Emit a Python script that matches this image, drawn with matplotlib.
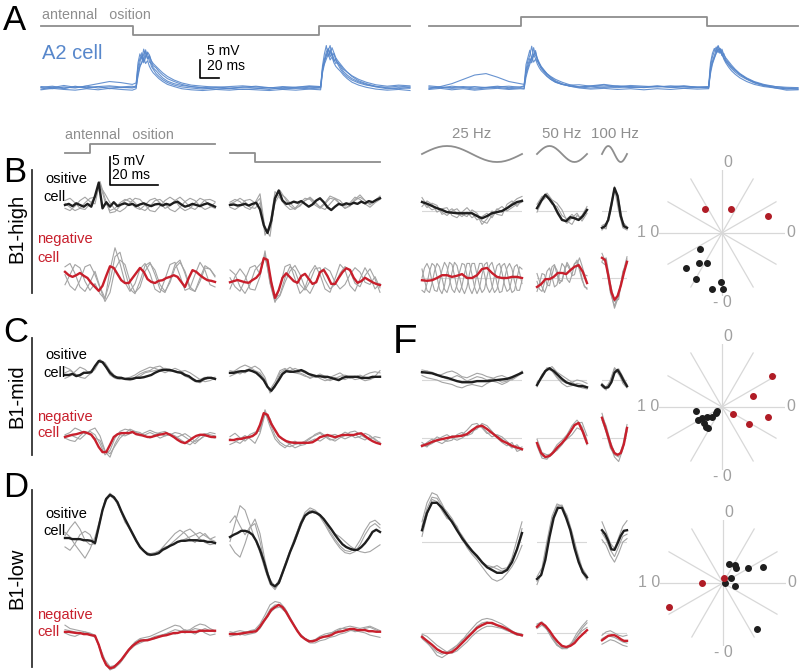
import numpy as np
import matplotlib
matplotlib.use('Agg')
import matplotlib.pyplot as plt
from matplotlib.lines import Line2D

plt.rcParams['font.family'] = ['Liberation Sans', 'DejaVu Sans']

# ---------------- panel A : A2 cell, single trials (mV above rest) ----------------
a_time = [0, 12, 24, 36, 48, 60, 72, 84, 96, 100,
          102, 104, 106, 108, 110, 112, 114, 116, 118, 121,
          124, 128, 133, 140, 148, 158, 170, 184, 198, 212,
          226, 240, 254, 268, 282, 294, 296, 298, 300, 302,
          304, 306, 308, 310, 312, 315, 318, 322, 327, 334,
          342, 352, 364, 376, 388]

a_left_trials = [
    [0.4, 0.1, 0.7, 0.2, 0.5, 0.0, 0.3, 0.1, 0.2, 0.6,
     7.0, 9.5, 8.0, 10.8, 8.5, 9.8, 7.2, 6.8, 5.6, 4.8,
     3.9, 2.8, 1.9, 1.2, 0.7, 0.4, 0.1, 0.3, 0.0, 0.2,
     0.5, 0.1, -0.1, 0.2, 0.4, 0.3, 6.2, 9.5, 11.8, 8.8,
     10.6, 9.2, 7.4, 8.2, 6.6, 5.2, 4.1, 3.1, 2.2, 1.4,
     0.8, 0.4, 0.2, 0.5, 0.3],
    [-0.3, 0.3, -0.2, 0.5, -0.1, 0.4, -0.2, 0.2, 0.0, 0.3,
     5.0, 7.0, 9.8, 7.5, 10.2, 8.0, 8.6, 6.0, 5.2, 4.0,
     3.2, 2.3, 1.5, 0.8, 0.3, 0.0, -0.3, 0.1, -0.2, 0.3,
     0.0, -0.4, 0.2, -0.1, 0.2, 0.1, 5.5, 8.0, 10.0, 11.0,
     8.6, 9.8, 8.0, 6.8, 7.2, 5.8, 4.6, 3.6, 2.6, 1.7,
     1.0, 0.3, -0.2, 0.1, -0.1],
    [0.1, -0.2, 0.3, 0.0, 0.6, 1.2, 1.8, 1.5, 1.0, 1.4,
     6.0, 8.2, 8.8, 7.0, 8.4, 10.0, 9.2, 7.4, 6.2, 5.6,
     4.6, 3.6, 2.6, 1.8, 1.0, 0.4, 0.0, -0.3, -0.1, -0.4,
     -0.2, 0.1, -0.3, 0.0, -0.2, 0.0, 4.8, 7.6, 9.0, 10.4,
     11.8, 8.8, 9.6, 7.6, 7.0, 6.2, 5.2, 4.4, 3.2, 2.0,
     1.2, 0.5, 0.0, -0.2, 0.2],
    [-0.5, -0.1, -0.4, -0.6, -0.2, -0.5, -0.1, -0.4, -0.6, -0.2,
     4.0, 6.2, 7.0, 8.4, 6.8, 7.6, 6.0, 5.0, 4.2, 3.4,
     2.6, 1.8, 1.0, 0.4, -0.2, -0.5, -0.7, -0.4, -0.6, -0.3,
     -0.5, -0.7, -0.4, -0.6, -0.3, -0.5, 4.2, 6.6, 8.0, 9.4,
     7.8, 8.6, 7.0, 6.0, 5.4, 4.6, 3.6, 2.6, 1.6, 0.8,
     0.2, -0.3, -0.6, -0.4, -0.7],
    [0.2, 0.5, 0.0, 0.3, 0.1, 0.4, 0.6, 0.3, 0.5, 0.2,
     3.2, 5.8, 7.2, 9.4, 10.6, 8.2, 9.0, 7.6, 6.8, 6.0,
     5.2, 4.2, 3.2, 2.2, 1.4, 0.8, 0.5, 0.2, 0.4, 0.6,
     0.3, 0.0, 0.4, 0.2, 0.6, 0.4, 5.0, 7.0, 9.0, 10.8,
     9.4, 11.2, 9.8, 8.4, 7.6, 6.6, 5.6, 4.4, 3.4, 2.4,
     1.6, 0.9, 0.5, 0.8, 0.6],
]

a_right_trials = [
    [0.3, 0.0, 0.5, 0.2, 0.4, 0.1, 0.3, 0.5, 0.2, 0.4,
     6.5, 8.5, 10.5, 8.0, 11.2, 9.0, 8.0, 6.6, 5.4, 4.4,
     3.4, 2.4, 1.6, 1.0, 0.6, 0.3, 0.5, 0.2, 0.6, 0.3,
     0.1, 0.4, 0.2, 0.5, 0.3, 0.4, 7.0, 9.6, 11.0, 10.0,
     11.8, 10.6, 9.6, 8.0, 7.0, 5.8, 4.8, 3.8, 2.8, 1.8,
     1.0, 0.4, 0.0, -0.2, 0.0],
    [0.0, 0.4, 1.2, 2.4, 3.6, 4.0, 3.0, 1.8, 1.2, 1.0,
     5.0, 7.6, 9.0, 11.6, 8.8, 10.4, 7.6, 6.8, 5.8, 4.8,
     3.8, 2.8, 1.8, 1.0, 0.5, 0.2, 0.6, 1.0, 0.5, 0.1,
     0.3, 0.6, 0.2, 0.0, 0.2, 0.1, 6.0, 8.6, 10.2, 11.4,
     9.8, 11.0, 9.2, 8.4, 7.4, 6.4, 5.4, 4.4, 3.4, 2.4,
     1.4, 0.6, 0.2, -0.3, -0.2],
    [-0.4, -0.1, -0.5, -0.2, -0.6, -0.3, -0.1, -0.4, -0.2, -0.3,
     4.4, 6.4, 8.2, 7.0, 9.0, 10.0, 8.2, 7.0, 6.0, 5.0,
     4.0, 3.0, 2.0, 1.2, 0.5, 0.0, -0.3, -0.1, -0.4, -0.2,
     -0.5, -0.2, -0.4, -0.1, -0.3, -0.2, 5.4, 7.4, 9.0, 10.6,
     11.6, 9.6, 10.4, 8.6, 7.6, 6.6, 5.8, 4.8, 3.8, 2.6,
     1.6, 0.8, 0.0, -0.6, -0.5],
    [0.6, 0.3, 0.1, 0.4, 0.0, 0.2, 0.5, 0.1, 0.3, 0.6,
     3.8, 5.6, 7.4, 8.6, 7.2, 8.0, 6.6, 5.6, 4.8, 4.0,
     3.2, 2.4, 1.6, 1.0, 0.8, 0.9, 0.5, 0.8, 0.4, 0.7,
     0.5, 0.3, 0.6, 0.4, 0.1, 0.3, 4.8, 7.0, 8.4, 9.8,
     10.6, 11.0, 9.0, 9.6, 8.0, 7.0, 6.0, 5.0, 3.8, 2.6,
     1.6, 0.8, 0.4, 0.2, 0.1],
    [-0.2, 0.2, -0.1, 0.1, -0.3, 0.0, 0.2, -0.2, 0.0, -0.1,
     3.0, 5.0, 6.6, 8.0, 9.2, 8.2, 7.4, 6.4, 5.6, 4.8,
     4.0, 3.2, 2.4, 1.6, 0.9, 0.3, 0.0, 0.3, 0.1, 0.4,
     0.2, 0.5, 0.3, 0.6, 0.2, 0.0, 4.0, 6.6, 8.2, 9.6,
     10.8, 9.8, 10.8, 9.2, 8.4, 7.4, 6.4, 5.2, 4.0, 2.8,
     1.8, 1.0, 0.4, 0.0, -0.4],
]

a_dur = 388
a_stim_time = [0, 97, 97, 292, 292, a_dur]
a_stim_left = [0, 0, -1, -1, 0, 0]
a_stim_right = [0, 0, 1, 1, 0, 0]

# ---------------- B-D : step responses (62.5 ms window) ----------------
step_dur = 62.5
step_stim_time = [0, 10.4, 10.4, step_dur]
step_stim_up = [0, 0, 1, 1]
step_stim_down = [0, 0, -1, -1]

# B1-high
b_pos_on_mean = [0.0, 0.2, -0.2, 0.3, 0.0, -0.3, 0.2, -0.3, 1.6, 4.0,
                 -0.6, 0.5, -0.3, 0.5, -0.2, 0.1, 0.3, 0.0, 0.2, -0.2,
                 0.1, 0.3, 0.0, -0.2, 0.1, 0.2, -0.1, 0.2, 0.0, 0.4,
                 0.6, 0.1, -0.3, -0.1, 0.2, 0.0, -0.2, 0.1, 0.3, 0.0,
                 -0.3]
b_pos_on_trials = [
    [0.8, 1.2, 0.4, -0.6, -0.8, 0.2, 1.4, 3.8, 0.6, -1.0,
     -0.6, 0.4, 1.0, 0.6, -0.4, -0.8, 0.0, 0.9, 1.2, 0.4,
     -0.6, -0.2, 0.8, 1.4, 0.6, -0.4, -0.8, 0.0, 0.9, 1.0, 0.6],
    [-0.6, -1.0, -0.2, 0.8, 1.4, 0.6, 0.2, 4.2, 1.2, -1.4,
     -1.2, -0.2, 0.8, 1.2, 0.4, -0.6, -1.0, -0.2, 0.8, 1.0,
     0.2, -0.8, -1.2, -0.4, 0.6, 1.2, 0.8, -0.2, -0.8, -0.4, 0.4],
    [0.3, -0.4, -1.0, -0.6, 0.4, 1.2, 1.4, 3.4, 2.0, 0.4,
     -0.8, -1.2, -0.6, 0.4, 1.2, 1.0, 0.0, -1.0, -1.2, -0.2,
     0.8, 1.4, 0.8, -0.4, -1.0, -0.6, 0.4, 1.2, 0.8, -0.2, -0.6],
]
b_pos_off_mean = [0.0, 0.1, -0.1, 0.0, 0.2, -0.1, 0.2, 0.4, -0.8, -3.6,
                  -5.0, -2.8, 1.2, 2.6, 0.8, 0.2, 0.3, 0.6, 0.4, 0.7,
                  0.2, -0.3, 0.1, 0.8, 1.2, 0.5, -0.4, -0.9, -0.3, 0.2,
                  0.0, 0.3, 0.1, 0.4, 0.2, 0.6, 0.3, 0.7, 0.5, 0.9,
                  1.2]
b_pos_off_trials = [
    [0.5, 1.0, 0.6, -0.4, -0.8, 0.2, 1.2, -5.4, -3.6, 2.4,
     1.2, 0.0, -0.8, -0.6, 0.4, 1.2, 1.0, 0.0, -0.6, 0.2,
     1.2, 1.0, 0.2, -0.6, -0.2, 0.8, 1.4, 0.8, 0.2, 0.8, 1.6],
    [-0.4, -0.8, -0.2, 0.8, 1.0, 0.4, 2.0, -4.2, -5.6, 1.0,
     2.6, 1.2, -0.2, -0.8, 0.0, 0.8, 1.4, 0.6, -0.4, -0.8,
     0.2, 1.2, 0.8, -0.2, 0.4, 1.4, 1.0, 0.2, -0.4, 0.4, 1.0],
    [0.2, 0.6, 1.2, 0.6, -0.4, -0.6, 0.4, -4.8, -4.4, 0.4,
     2.0, 1.4, 0.4, -0.6, -0.2, 0.8, 1.2, 0.4, -0.4, 0.4,
     1.6, 1.2, 0.2, -0.6, 0.0, 1.0, 1.8, 0.8, 0.0, 0.8, 1.4],
]
b_neg_on_mean = [1.1, 0.5, 0.2, 0.5, 0.9, 0.4, 0.0, -0.9, -1.6, -2.3,
                 -1.4, 0.4, 2.1, 1.8, 0.7, -0.4, -0.9, -0.9, 0.0, 0.9,
                 1.8, 1.1, -0.2, -0.7, -0.9, -0.5, -0.4, 0.0, 0.2, 0.5,
                 0.2, -0.7, -1.6, 0.0, 1.4, 1.1, 0.5, 0.0, -0.4, -0.5,
                 -0.7]
b_neg_on_trials = [
    [2.0, 2.6, 0.8, -1.6, -2.4, -0.8, 1.2, -1.6, -3.6, -0.6,
     3.8, 4.6, 1.2, -2.0, -2.8, -0.6, 2.2, 2.8, 0.6, -2.0,
     -2.6, -0.4, 2.4, 3.2, 0.8, -2.0, -2.4, 0.0, 2.2, 1.6, 0.4],
    [-1.2, 0.6, 2.4, 1.8, -0.6, -2.2, -1.0, -2.8, -3.8, 1.4,
     5.4, 2.6, -0.8, -2.4, -1.0, 1.6, 2.6, 0.8, -2.0, -2.6,
     -0.2, 2.4, 2.8, 0.4, -2.2, -1.8, 0.6, 2.8, 1.4, -1.2, -1.6],
    [0.6, -1.4, -2.2, -0.4, 2.0, 2.4, 0.6, -1.8, -4.2, -2.6,
     1.6, 3.2, 2.4, -0.6, -2.6, -1.6, 1.2, 2.6, 1.4, -1.2,
     -2.4, -0.8, 1.8, 2.8, 1.2, -1.6, -2.4, -0.6, 1.8, 1.6, 0.2],
]
b_neg_off_mean = [-0.4, -0.2, 0.0, -0.2, -0.4, -0.5, 0.0, 0.4, 1.2, 3.9,
                  3.6, -0.4, -3.2, -1.8, 0.4, 1.2, 0.5, -0.2, -0.5, 0.7,
                  1.1, 0.2, -0.7, -0.4, 1.4, 1.8, 0.7, -0.7, -0.7, 0.4,
                  1.4, 2.1, 1.8, 0.4, -0.5, -0.2, 0.4, 0.0, -0.4, -0.7,
                  -0.9]
b_neg_off_trials = [
    [-1.6, 0.6, 2.0, 0.8, -1.6, -1.8, 0.6, 5.2, -0.6, -4.0,
     -1.2, 2.4, 2.8, 0.2, -2.4, -1.4, 1.2, 2.6, 1.0, -1.6,
     -2.2, 0.2, 2.8, 1.8, -1.0, -2.0, 0.2, 2.2, 0.6, -1.6, -0.6],
    [1.8, 1.0, -1.2, -2.4, -0.8, 1.8, 2.8, 3.8, 1.0, -3.2,
     -2.6, 0.4, 2.4, 1.6, -0.8, -1.8, -0.2, 2.0, 2.2, 0.0,
     -1.6, -0.8, 1.2, 2.4, 1.6, -0.6, -1.2, 0.8, 2.0, 0.2, -2.2],
    [0.4, -1.2, -2.0, 0.0, 2.2, 2.6, 1.0, 4.6, -0.4, -3.8,
     -2.8, -0.4, 1.6, 2.6, 1.0, -1.4, -2.4, -0.6, 1.4, 2.2,
     1.6, -0.4, -1.6, -0.8, 1.0, 2.2, 1.4, -0.4, -0.8, 0.6, -1.4],
]

# B1-mid
c_pos_on_mean = [0.0, 0.0, 0.2, -0.2, 0.0, 0.4, 0.4, 0.5, 1.6, 2.5,
                 2.3, 1.4, 0.4, -0.2, -0.5, -0.5, -0.7, -0.7, -0.7, -0.5,
                 -0.5, -0.4, -0.2, 0.0, 0.4, 0.7, 0.9, 0.9, 0.9, 0.7,
                 0.5, 0.4, 0.0, -0.2, -0.7, -1.1, -1.1, -0.7, -0.5, -0.5,
                 -0.7]
c_pos_on_trials = [
    [1.4, 1.0, 0.2, -0.2, 0.4, 0.6, 1.4, 2.8, 1.6, 0.0,
     -0.6, -0.8, -0.6, -0.4, 0.0, 0.6, 1.0, 1.4, 1.2, 0.8,
     0.4, 0.8, 1.2, 0.8, 0.2, -0.4, -1.0, -1.4, -0.8, -0.6, -0.8],
    [-0.6, -0.2, 0.6, 1.4, 1.0, 0.2, 1.6, 2.4, 1.8, 0.6,
     -0.2, -0.6, -0.8, -0.6, -0.4, 0.2, 0.6, 0.8, 1.4, 1.6,
     1.0, 0.6, 0.8, 0.4, -0.2, -0.6, -1.2, -0.8, -0.4, -0.6, -0.4],
    [0.4, 0.8, 0.2, -0.4, -0.6, 0.2, 1.0, 2.6, 2.2, 0.8,
     -0.2, -0.4, -0.8, -1.0, -0.6, -0.2, 0.4, 0.6, 0.8, 1.0,
     1.2, 1.0, 0.6, 0.6, 0.8, 0.4, -0.2, -0.8, -1.2, -1.0, -0.6],
]
c_pos_off_mean = [0.2, 0.2, 0.4, 0.5, 0.5, 0.7, 0.5, 0.2, -0.4, -1.1,
                  -2.3, -3.0, -2.1, -1.1, 0.0, 0.5, 0.4, 0.4, 0.5, 0.7,
                  0.4, 0.0, -0.2, -0.4, -0.4, -0.5, -0.5, -0.7, -0.9, -1.1,
                  -0.7, -0.5, -0.5, -0.5, -0.5, -0.7, -0.7, -0.7, -0.5, -0.5,
                  -0.5]
c_pos_off_trials = [
    [0.2, 0.6, 1.2, 1.6, 1.2, 0.6, 0.2, -1.0, -3.2, -2.0,
     0.2, 0.8, 0.6, 1.0, 0.6, 0.2, -0.2, -0.6, -0.4, -0.8,
     -1.2, -0.8, -0.4, -0.2, -0.6, -1.0, -0.8, -0.2, 0.2, 0.4, 0.2],
    [-0.4, 0.0, 0.4, 0.2, 0.8, 0.4, 0.0, -1.6, -2.8, -1.4,
     0.6, 1.0, 0.4, 0.2, 0.0, -0.4, -0.6, -0.2, -0.8, -1.2,
     -1.0, -0.6, -0.8, -1.0, -0.6, -0.4, -0.8, -1.2, -1.0, -0.6, -0.4],
    [0.6, 0.4, 0.0, 0.6, 1.0, 1.4, 0.8, -0.6, -3.4, -2.4,
     -0.2, 0.6, 1.2, 0.6, 0.2, -0.2, -0.8, -0.4, 0.0, -0.4,
     -0.6, -0.2, 0.2, -0.4, -0.8, -0.6, -0.2, -0.6, -0.8, -0.4, 0.6],
]
c_neg_on_mean = [0.0, 0.2, 0.4, 0.5, 0.7, 0.9, 0.7, 0.4, -0.5, -1.8,
                 -2.7, -2.7, -1.4, 0.0, 0.5, 0.7, 0.7, 0.7, 0.9, 0.5,
                 0.4, 0.2, 0.0, 0.0, 0.2, 0.4, 0.5, 0.7, 0.4, 0.0,
                 -0.5, -0.9, -1.1, -0.7, -0.2, 0.2, 0.4, 0.4, 0.2, 0.0,
                 0.0]
c_neg_on_trials = [
    [0.4, 0.8, 1.6, 1.2, 0.6, 1.0, 0.4, -1.2, -3.2, -2.4,
     -0.2, 1.0, 1.4, 1.2, 0.6, 0.2, 0.4, 0.8, 0.4, -0.2,
     0.2, 0.6, 0.2, -0.4, -1.0, -1.4, -0.6, 0.2, 0.6, 0.4, 0.2],
    [-0.2, -0.6, -0.8, 0.2, 1.0, 0.6, -0.2, -0.6, -2.6, -3.6,
     -1.2, 0.4, 0.2, 0.6, 1.0, 0.8, 0.2, -0.2, 0.4, 0.8,
     1.0, 0.4, -0.2, 0.2, 0.6, 0.0, -0.8, -0.4, 0.2, 0.0, -0.2],
    [0.2, 0.4, 0.0, -0.4, 0.4, 1.2, 1.6, 0.2, -2.4, -3.0,
     -1.6, -0.2, 0.6, 1.4, 1.0, 0.4, 0.8, 1.2, 0.8, 0.6,
     0.2, 0.4, 0.8, 0.6, 0.0, -0.6, -1.2, -0.4, 0.4, 0.8, 0.6],
]
c_neg_off_mean = [0.0, 0.0, 0.2, 0.2, 0.4, 0.5, 0.7, 1.2, 2.7, 4.8,
                  4.5, 2.9, 1.8, 0.7, 0.2, -0.2, -0.4, -0.5, -0.5, -0.5,
                  -0.5, -0.5, -0.4, 0.0, 0.5, 0.7, 0.9, 0.7, 0.5, 0.7,
                  0.9, 0.9, 0.9, 0.9, 1.1, 1.2, 0.7, 0.2, -0.2, -0.5,
                  -0.7]
c_neg_off_trials = [
    [0.6, 1.2, 0.4, -0.2, 0.6, 1.0, 2.0, 5.4, 3.0, 0.8,
     -0.4, -1.0, -1.2, -0.8, -0.6, -0.2, 0.4, 0.8, 1.2, 0.6,
     0.0, 0.2, 0.8, 1.4, 1.0, 0.4, 0.6, 1.2, 0.8, 0.0, -0.4],
    [-0.8, -0.4, 0.2, 0.8, 0.2, -0.6, 1.2, 4.6, 3.8, 1.6,
     0.4, -0.2, -0.8, -1.4, -1.0, -0.8, -0.2, 0.2, -0.2, 0.4,
     0.8, 1.0, 0.6, 0.2, 0.6, 1.0, 0.4, 0.0, 0.6, 0.2, -0.6],
    [0.2, -0.2, -0.6, 0.2, 1.0, 1.4, 1.6, 5.0, 2.4, 0.2,
     -0.8, -1.4, -0.6, -0.2, -0.8, -0.4, 0.2, 1.0, 1.4, 0.8,
     0.2, -0.2, 0.4, 0.8, 1.4, 1.6, 1.0, 0.4, 0.2, 0.6, 0.4],
]

# B1-low
d_pos_on_mean = [0.0, 0.0, -0.2, -0.2, -0.2, -0.4, -0.4, -0.5, -0.9, 2.0,
                 5.0, 7.0, 7.7, 7.3, 6.4, 4.8, 3.4, 2.1, 0.8, -0.5,
                 -1.6, -2.3, -2.9, -3.0, -2.9, -2.7, -2.1, -1.8, -1.4, -1.1,
                 -0.7, -0.5, -0.5, -0.4, -0.4, -0.4, -0.5, -0.5, -0.7, -0.7,
                 -0.9]
d_pos_on_trials = [
    [0.4, 1.8, 2.9, 1.6, -0.4, -1.2, -1.0, 3.2, 6.8, 8.0,
     7.2, 5.0, 3.0, 1.4, -0.2, -1.8, -2.6, -3.2, -2.8, -2.2,
     -1.2, -0.2, 0.8, 1.4, 0.8, -0.2, -0.8, 0.2, 0.8, -0.2, -0.6],
    [-1.6, -2.2, -1.0, 0.6, 1.2, 0.6, -1.2, 2.8, 6.6, 7.8,
     7.0, 5.4, 3.2, 1.8, 0.2, -1.4, -2.6, -3.0, -3.0, -2.6,
     -2.0, -1.2, -0.4, 0.4, 1.2, 1.6, 0.8, -0.2, -0.8, -1.2, -1.0],
    [1.0, 0.2, -1.2, -2.4, -3.6, -2.0, 0.2, 3.4, 6.4, 7.6,
     6.8, 5.2, 2.8, 1.6, 0.0, -1.6, -2.4, -2.8, -2.6, -2.2,
     -1.6, -1.4, -1.0, -0.6, -0.2, 0.2, 0.6, 1.0, 0.4, -0.2, 0.2],
]
d_pos_off_mean = [0.0, 0.4, 0.7, 1.1, 1.1, 0.9, 0.4, -0.7, -2.3, -4.3,
                  -6.6, -8.4, -8.8, -8.2, -6.4, -4.6, -2.7, -1.1, 0.7, 2.5,
                  3.8, 4.3, 4.5, 4.3, 3.9, 3.2, 2.3, 1.4, 0.4, -0.5,
                  -1.3, -1.8, -2.1, -2.3, -2.3, -1.8, -1.1, -0.2, 0.9, 1.3,
                  0.9]
d_pos_off_trials = [
    [-0.8, 2.4, 5.6, 4.8, 2.2, -0.4, -2.8, -5.8, -8.4, -9.4,
     -8.0, -5.4, -2.8, -0.2, 2.4, 4.4, 5.2, 4.8, 4.0, 2.6,
     1.0, -0.4, -1.6, -2.4, -2.6, -2.0, -0.6, 1.2, 2.6, 3.0, 2.2],
    [2.6, 3.8, 2.0, 0.4, 1.8, 2.4, -0.8, -5.0, -7.6, -8.8,
     -7.4, -4.8, -2.4, 0.0, 2.2, 4.0, 4.8, 4.6, 3.6, 2.2,
     0.6, -0.8, -2.0, -2.8, -3.0, -2.6, -1.4, 0.4, 1.8, 2.4, 1.6],
    [-1.4, -2.8, -3.6, -1.2, 1.6, 3.2, 0.6, -4.2, -7.8, -9.2,
     -7.8, -5.2, -2.6, -0.8, 1.6, 3.6, 4.6, 4.6, 4.0, 2.8,
     1.6, 0.6, 0.0, -0.8, -1.6, -2.2, -2.6, -2.8, -2.6, -2.0, -1.4],
]
d_neg_on_mean = [0.2, 0.2, 0.1, 0.0, 0.0, -0.2, -0.2, -0.4, -0.5, -2.1,
                 -4.3, -5.7, -6.3, -6.1, -5.5, -4.8, -3.9, -3.0, -2.3, -1.8,
                 -1.4, -1.3, -1.3, -1.1, -0.9, -0.7, -0.5, -0.4, -0.2, 0.0,
                 0.0, 0.2, 0.2, 0.2, 0.2, 0.2, 0.4, 0.4, 0.4, 0.4,
                 0.4]
d_neg_on_trials = [
    [1.4, 0.8, 0.6, 0.4, 0.2, 0.0, -0.4, -3.0, -5.4, -6.6,
     -6.2, -5.2, -3.8, -2.6, -1.6, -1.0, -0.8, -0.6, -0.2, 0.2,
     0.6, 1.0, 1.4, 1.2, 0.4, 0.6, 1.2, 1.6, 1.4, 0.8, 0.4],
    [0.0, -0.4, -0.6, -0.2, 0.2, -0.2, -0.8, -2.6, -4.8, -6.0,
     -5.8, -5.0, -4.0, -3.0, -2.2, -1.8, -1.4, -1.2, -1.0, -0.6,
     -0.2, 0.0, -0.2, 0.2, 0.6, 0.2, -0.2, 0.4, 0.8, 0.4, 0.2],
    [0.6, 0.4, 0.2, 0.0, -0.2, -0.4, -0.4, -2.8, -5.2, -6.4,
     -6.2, -5.4, -4.2, -2.8, -1.8, -1.2, -1.2, -1.0, -0.6, -0.4,
     -0.2, 0.2, 0.6, 0.4, 0.0, 0.4, 0.8, 0.6, 0.0, -0.4, -0.2],
]
d_neg_off_mean = [0.0, 0.0, 0.0, 0.1, 0.2, 0.3, 0.4, 0.5, 1.3, 2.3,
                  3.2, 4.3, 4.8, 5.2, 4.8, 3.9, 2.7, 1.6, 0.5, -0.4,
                  -0.9, -1.3, -1.3, -1.1, -0.7, -0.5, -0.4, -0.2, 0.2, 0.4,
                  0.5, 0.7, 0.9, 0.9, 0.7, 0.7, 0.7, 0.5, 0.5, 0.4,
                  0.4]
d_neg_off_trials = [
    [0.4, 0.2, -0.2, 0.2, 0.6, 0.8, 1.8, 3.4, 5.2, 5.8,
     5.6, 4.6, 3.0, 1.4, 0.0, -0.8, -1.2, -1.0, -0.4, 0.0,
     0.2, 0.4, 0.8, 1.2, 1.4, 1.2, 1.0, 1.2, 1.4, 1.0, 0.6],
    [-0.4, -0.2, 0.0, -0.2, 0.0, 0.2, 1.0, 2.4, 3.8, 4.6,
     4.8, 4.0, 2.6, 1.2, -0.2, -1.0, -1.6, -1.6, -1.2, -1.0,
     -0.6, -0.4, 0.0, 0.2, 0.6, 0.6, 0.4, 0.2, -0.2, -0.4, -0.6],
    [0.0, 0.4, 0.6, 0.4, 0.4, 0.6, 1.4, 2.8, 4.4, 5.2,
     5.2, 4.2, 2.8, 1.2, 0.0, -0.8, -1.2, -1.2, -0.8, -0.4,
     0.0, 0.6, 1.0, 1.0, 0.8, 0.4, 0.6, 1.0, 1.2, 0.8, 0.4],
]

# ---------------- sinusoidal stimulation, one cycle at 25/50/100 Hz ----------------
sine_stim = [0, 0.26, 0.5, 0.71, 0.87, 0.97, 1, 0.97, 0.87, 0.71, 0.5, 0.26, 0,
             -0.26, -0.5, -0.71, -0.87, -0.97, -1, -0.97, -0.87, -0.71, -0.5, -0.26, 0]
freqs = [25, 50, 100]

b_pos_25_mean = [1.6, 1.3, 0.9, 0.5, 0.2, -0.2, -0.3, -0.4, -0.4, -0.4,
                 -0.4, -0.9, -1.3, -0.9, -0.4, -0.2, 0.0, 0.5, 1.1, 1.6, 1.8]
b_pos_25_trials = [
    [2.4, 1.0, 0.2, 0.6, -0.2, -0.8, 0.0, 0.4, -0.6, -1.0,
     0.2, -0.4, -1.8, -2.2, -0.8, 0.4, -0.2, 0.6, 1.4, 2.2, 2.6],
    [0.8, 1.8, 1.2, -0.2, 0.4, 0.6, -0.8, -1.2, -0.2, 0.6,
     -0.4, -1.6, -1.0, -0.4, -1.2, 0.2, 0.8, 0.0, 0.6, 1.2, 1.6],
    [1.8, 0.6, 1.4, 1.0, -0.6, -0.2, 0.4, -0.4, -1.0, -0.2,
     -1.2, -0.6, -2.4, -1.4, 0.0, -0.6, -0.8, 1.2, 1.8, 0.8, 2.0],
]
b_pos_50_mean = [0.5, 1.8, 2.9, 2.1, 1.1, -0.4, -1.6, -1.8, -1.1, -1.3, -1.6, -0.9, 0.2]
b_pos_50_trials = [
    [1.2, 2.6, 2.8, 1.8, 0.2, -1.4, -2.2, -1.2, -0.4, -1.8, -0.4],
    [-0.2, 1.8, 2.6, 1.2, 0.8, -0.8, -1.4, -0.6, -1.6, -0.8, 0.8],
    [0.6, 2.2, 3.2, 2.0, 1.4, 0.2, -1.8, -2.4, -0.8, -1.4, 0.2],
]
b_pos_100_mean = [-3.0, -2.7, -1.6, 1.1, 4.1, 2.7, -0.9, -2.7, -3.0]
b_pos_100_trials = [
    [-3.4, -2.6, 0.2, 4.4, 1.0, -2.8, -3.2],
    [-2.6, -2.2, -0.4, 3.8, 2.0, -2.0, -2.8],
    [-3.0, -3.2, 0.8, 4.0, 0.0, -3.0, -3.4],
]
b_neg_25_mean = [-0.4, -0.5, -0.4, 0.0, 0.5, 0.5, 0.2, 0.4, 0.7, 0.0,
                 0.0, 0.5, 1.6, 1.8, 0.9, 0.2, 0.0, 0.0, 0.2, 0.2, 0.0]
b_neg_25_trials = [
    [0.0, 1.8, 2.6, 1.6, -0.6, -2.2, -2.4, -0.8, 1.4, 2.8,
     2.0, -0.2, -2.0, -2.6, -1.2, 1.0, 2.6, 2.4, 0.4, -1.8,
     -2.8, -1.6, 0.8, 2.6, 2.6, 0.6, -1.6, -2.6, -1.8, 0.4,
     2.2, 2.6, 1.0, -1.2, -2.4, -2.0, 0.0, 2.0, 2.4, 1.0, -1.0],
    [-2.2, -2.6, -1.0, 1.2, 2.6, 2.2, 0.2, -2.0, -2.8, -1.4,
     1.0, 2.8, 2.4, 0.4, -1.8, -2.6, -1.4, 0.8, 2.6, 2.6,
     0.6, -1.6, -2.8, -1.8, 0.6, 2.4, 2.8, 0.8, -1.4, -2.6,
     -2.0, 0.2, 2.2, 2.6, 1.2, -1.2, -2.6, -2.2, 0.0, 2.0, 1.6],
    [1.6, -0.4, -2.2, -2.6, -1.0, 1.2, 2.6, 2.0, 0.0, -2.0,
     -2.6, -1.2, 1.0, 2.8, 2.2, 0.2, -1.8, -2.8, -1.6, 0.8,
     2.6, 2.6, 0.6, -1.4, -2.6, -2.0, 0.2, 2.2, 2.8, 1.2,
     -1.0, -2.6, -2.4, -0.2, 1.8, 2.6, 1.6, -0.6, -2.2, -2.2, -0.4],
]
b_neg_50_mean = [-1.6, -1.1, -0.2, -0.2, 0.2, 0.9, 0.9, 0.7, 1.4, 2.0, 2.3, 1.1, -0.9]
b_neg_50_trials = [
    [-0.6, -2.0, -2.4, -0.8, 1.2, 1.8, 0.2, -1.6, -1.2, 0.8,
     2.6, 2.0, -0.2, -0.8, 0.6, 2.4, 3.2, 2.0, 0.0, -1.6, -1.8],
    [-2.4, -1.0, 0.8, 0.6, -1.2, -1.4, 0.6, 2.2, 1.4, -0.4,
     -0.6, 1.2, 2.8, 2.0, 0.4, 0.6, 2.4, 3.6, 2.2, 0.6, 0.4],
    [0.8, -0.6, -1.6, -2.6, -1.4, 0.2, 2.0, 2.4, 0.6, -1.0,
     -0.4, 1.4, 2.4, 1.6, 1.4, 2.6, 2.8, 1.4, -0.4, -1.4, -2.0],
]
b_neg_100_mean = [3.6, 3.2, 0.5, -2.5, -3.9, -3.2, -1.4, 0.9, 2.9]
b_neg_100_trials = [
    [4.4, 2.6, -2.2, -5.4, -3.2, 0.4, 3.4],
    [3.0, 3.6, -1.0, -4.2, -3.8, 1.2, 2.6],
    [2.8, 2.2, -2.6, -5.0, -2.6, 0.8, 3.8],
]

c_pos_25_mean = [1.4, 1.3, 1.2, 0.9, 0.6, 0.4, 0.1, -0.2, -0.4, -0.4,
                 -0.4, -0.2, -0.2, -0.2, -0.1, 0.0, 0.1, 0.2, 0.5, 0.9, 1.3]
c_pos_25_trials = [
    [1.8, 1.6, 1.2, 0.8, 1.0, 1.4, 1.6, 1.2, 0.6, 0.4,
     0.8, 1.2, 1.0, 0.6, 0.4, 0.0, -0.4, -0.2, 0.4, 0.8, 1.4],
    [0.8, 0.4, 0.2, 0.0, -0.4, -0.6, -0.8, -1.2, -1.4, -1.0,
     -0.8, -1.0, -1.2, -0.6, -0.2, -0.4, -0.8, -0.4, 0.2, 0.8, 1.6],
    [1.2, 1.6, 1.4, 1.0, 0.6, 0.2, 0.4, 0.8, 0.4, -0.2,
     0.2, 0.6, 0.4, 0.0, 0.2, 0.6, 0.8, 0.4, 0.0, 0.6, 1.2],
]
c_pos_50_mean = [-0.9, 0.4, 1.6, 2.1, 1.6, 0.9, 0.2, -0.4, -0.7, -0.9, -1.1, -1.1, -1.3]
c_pos_50_trials = [
    [-1.2, 0.8, 2.2, 1.8, 0.6, -0.2, -0.6, -0.4, 0.0, -0.2, -0.6],
    [-0.4, 0.4, 1.8, 2.4, 1.4, 0.8, 0.2, -0.4, -1.0, -1.4, -1.6],
    [-0.8, 1.0, 2.0, 1.6, 0.4, -0.6, -1.2, -1.0, -0.6, -0.8, -1.2],
]
c_pos_100_mean = [-0.9, -1.4, -1.3, -0.4, 1.3, 1.8, 0.9, -0.2, -1.1]
c_pos_100_trials = [
    [-1.2, -1.8, 0.0, 2.2, 1.4, -0.6, -1.4],
    [-0.6, -1.4, -0.6, 1.6, 2.0, 0.6, -0.8],
    [-1.0, -1.2, -0.2, 2.0, 1.0, -0.2, -1.2],
]
c_neg_25_mean = [-1.4, -1.1, -0.7, -0.4, -0.2, 0.0, 0.2, 0.3, 0.4, 0.7,
                 1.4, 2.0, 2.2, 1.6, 0.9, 0.2, -0.5, -0.9, -1.4, -1.7, -2.0]
c_neg_25_trials = [
    [-1.6, -0.8, -0.2, -0.6, -1.0, -0.4, 0.4, 0.2, 0.6, 1.4,
     2.4, 2.6, 1.8, 0.8, 1.0, 0.4, -0.2, -1.0, -1.8, -1.2, -2.2],
    [-0.8, -1.4, -1.0, -0.4, 0.2, 0.6, 0.0, -0.4, 0.0, 0.6,
     1.2, 1.6, 2.6, 2.2, 1.2, 0.0, -0.8, -1.4, -0.8, -2.4, -2.0],
    [-1.2, -1.6, -0.6, 0.2, -0.2, -0.6, -0.4, 0.6, 1.0, 0.4,
     0.8, 2.2, 2.0, 1.0, 0.2, 0.6, 0.2, -0.6, -1.4, -2.0, -1.6],
]
c_neg_50_mean = [-0.9, -2.7, -3.4, -3.2, -2.5, -1.6, -0.9, 0.0, 1.1, 2.3, 2.7, 1.1, -0.9]
c_neg_50_trials = [
    [-1.4, -3.6, -3.8, -2.6, -1.2, -0.4, 0.6, 2.2, 3.2, 2.0, -0.4],
    [-0.2, -2.6, -3.0, -2.8, -2.2, -1.2, 0.2, 1.6, 2.6, 2.8, 0.4],
    [-1.0, -3.2, -3.6, -3.0, -2.0, -1.0, -0.2, 0.6, 1.8, 1.4, -1.2],
]
c_neg_100_mean = [3.6, 2.0, 0.2, -1.6, -2.7, -3.0, -2.7, -1.1, 1.8]
c_neg_100_trials = [
    [4.4, 1.8, -1.4, -3.4, -4.2, -2.0, 1.2],
    [3.2, 1.0, -1.8, -3.0, -3.4, -1.2, 2.4],
    [3.8, 2.2, -0.6, -2.6, -3.0, -1.8, 1.6],
]

d_pos_25_mean = [2.1, 5.2, 7.0, 7.0, 6.1, 4.8, 3.6, 2.1, 0.7, -0.5,
                 -1.6, -2.5, -3.6, -4.5, -5.0, -5.5, -5.5, -5.0, -3.6, -1.3, 1.6]
d_pos_25_trials = [
    [3.6, 7.0, 8.8, 8.4, 6.8, 5.0, 3.4, 2.4, 1.2, -0.2,
     -1.4, -2.6, -3.8, -4.6, -4.6, -4.2, -4.8, -4.6, -3.4, -1.2, 2.4],
    [1.0, 4.8, 7.6, 7.2, 5.6, 4.2, 3.8, 2.8, 0.8, -1.0,
     -2.2, -3.2, -4.4, -5.6, -6.6, -7.0, -6.6, -5.6, -4.4, -2.8, -0.6],
    [2.8, 6.0, 8.0, 7.8, 6.4, 5.4, 4.2, 2.6, 0.4, -0.8,
     -1.8, -2.8, -3.6, -4.2, -4.4, -4.8, -5.2, -4.8, -2.8, 0.4, 3.6],
]
d_pos_50_mean = [-6.6, -5.9, -3.2, 0.9, 4.3, 6.1, 6.1, 4.3, 2.1, -1.1, -3.6, -5.4, -6.3]
d_pos_50_trials = [
    [-7.6, -5.2, -0.6, 4.0, 6.4, 6.6, 4.6, 1.6, -2.0, -5.0, -6.6],
    [-6.2, -4.6, 0.2, 4.6, 6.8, 6.4, 4.2, 1.0, -2.6, -5.4, -6.8],
    [-7.0, -5.6, -1.0, 3.6, 6.0, 6.2, 4.8, 1.8, -1.6, -4.6, -6.0],
]
d_pos_100_mean = [2.1, 1.4, 0.2, -1.3, -1.4, -0.2, 1.1, 2.0, 2.1]
d_pos_100_trials = [
    [3.6, 1.8, -0.2, -1.2, 0.8, 2.8, 3.8],
    [0.4, -0.6, -2.4, -3.6, -2.0, 0.0, 0.6],
    [1.6, 0.4, -1.4, -2.6, -0.8, 1.0, 1.4],
]
d_neg_25_mean = [-0.7, -1.4, -2.1, -2.9, -3.4, -3.6, -3.4, -2.7, -1.8, -0.9,
                 0.0, 0.9, 1.4, 1.8, 1.8, 1.4, 1.1, 0.7, 0.2, -0.2, -0.4]
d_neg_25_trials = [
    [-0.4, -1.6, -2.8, -4.0, -4.4, -3.8, -3.0, -2.2, -1.4, -0.2,
     0.8, 1.8, 2.4, 2.6, 2.4, 2.0, 1.6, 1.0, 0.4, -0.2, -0.6],
    [-0.2, -0.6, -1.4, -2.2, -2.8, -3.4, -3.6, -3.2, -2.4, -1.6,
     -0.6, 0.2, 0.8, 1.2, 1.2, 1.0, 0.8, 0.4, 0.2, 0.0, -0.2],
    [-1.0, -1.8, -2.6, -3.4, -3.8, -3.4, -2.8, -2.2, -1.2, -0.6,
     0.2, 1.2, 1.8, 2.0, 1.6, 1.4, 1.0, 0.6, 0.0, -0.4, -0.4],
]
d_neg_50_mean = [1.1, 1.8, 1.3, 0.4, -0.7, -1.6, -2.3, -2.5, -2.3, -1.8, -0.9, -0.2, 0.5]
d_neg_50_trials = [
    [1.6, 2.0, 1.0, -0.6, -2.0, -2.8, -2.8, -2.0, -0.6, 0.8, 1.8],
    [0.8, 1.4, 0.6, -0.8, -2.2, -2.6, -2.4, -1.8, -0.6, 0.4, 1.0],
    [1.4, 1.8, 0.6, -1.0, -2.2, -2.8, -2.6, -1.6, 0.0, 1.2, 2.2],
]
d_neg_100_mean = [-1.3, -0.9, -0.5, -0.4, -0.4, -0.7, -1.1, -1.4, -1.4]
d_neg_100_trials = [
    [-0.4, 0.2, 0.4, 0.0, -0.4, -0.6, -0.4],
    [-2.0, -1.6, -1.2, -1.4, -1.8, -2.2, -2.4],
    [-1.0, -0.6, -0.6, -0.8, -1.2, -1.6, -1.8],
]

# ---------------- phase plots (angle in degrees, normalised amplitude) ----------------
b_pol_pos = ([217, 224, 232, 243, 240, 260, 269, 271],
             [0.43, 0.79, 0.60, 0.54, 0.84, 0.90, 0.77, 0.89])
b_pol_neg = ([125, 69, 20], [0.47, 0.41, 0.77])
c_pol_pos = ([189, 219, 225, 225, 214, 208, 222, 231, 236, 209],
             [0.41, 0.10, 0.14, 0.23, 0.29, 0.44, 0.39, 0.41, 0.41, 0.37])
c_pol_neg = ([32, 20, 328, 328, 348], [0.94, 0.52, 0.21, 0.51, 0.74])
d_pol_pos = ([73, 56, 49, 32, 22, 32, 0, 346, 306],
             [0.32, 0.35, 0.32, 0.46, 0.69, 0.15, 0.03, 0.20, 0.91])
d_pol_neg = ([79, 180, 204], [0.08, 0.34, 0.93])

# ---------------------------------------------------------------------------------------
W, H = 800, 671
BLUE = '#5787cb'
RED = '#c81f2c'
DARK = '#1e1e1e'
TRIAL = '#a4a4a4'
GREY = '#8e8e8e'
ZERO = '#d8d8d8'
PX_MV = 5.6      # pixels per mV in B-D

fig = plt.figure(figsize=(W / 100, H / 100), dpi=100)


def px_axes(x, y, w, h, **kw):
    return fig.add_axes([x / W, 1 - (y + h) / H, w / W, h / H], **kw)


def trace_axes(x0, w, base, xmax, scale, up=75, down=45):
    ax = px_axes(x0, base - up, w, up + down)
    ax.set_xlim(0, xmax)
    ax.set_ylim(-down / scale, up / scale)
    ax.axis('off')
    return ax


def ptext(x, y, s, **kw):
    kw.setdefault('va', 'baseline')
    fig.text(x / W, 1 - y / H, s, **kw)


# ---- panel A ----
for x0, stim, trials in [(41, a_stim_left, a_left_trials), (429, a_stim_right, a_right_trials)]:
    sax = trace_axes(x0, 369, 26, a_dur, 9.3, up=14, down=14)
    sax.plot(a_stim_time, stim, color=GREY, lw=1.3, clip_on=False)
    ax = trace_axes(x0, 369, 88, a_dur, 3.6, up=55, down=14)
    for tr in trials:
        ax.plot(a_time, tr, color=BLUE, lw=0.8, alpha=0.9, clip_on=False)
    if x0 == 41:
        ax.plot([167, 167, 187], [2.8 + 5, 2.8, 2.8], color='k', lw=1.2, clip_on=False)

ptext(3, 30, 'A', fontsize=25)
ptext(42, 19, 'antennal   osition', fontsize=10.3, color=GREY)
ptext(42, 59, 'A2 cell', fontsize=14.5, color=BLUE)
ptext(207, 55, '5 mV', fontsize=10)
ptext(207, 70, '20 ms', fontsize=10)

# ---- stimulus row above B ----
for x0, stim in [(65, step_stim_up), (230, step_stim_down)]:
    sax = trace_axes(x0, 150, 153, step_dur, 8.5, up=15, down=15)
    sax.plot(step_stim_time, stim, color=GREY, lw=1.3, clip_on=False)

sine_x = {25: (422, 100), 50: (537, 50), 100: (602, 25)}
for f in freqs:
    x0, w = sine_x[f]
    sax = trace_axes(x0, w, 154, 1000 / f, 8, up=15, down=15)
    sax.plot(np.linspace(0, 1000 / f, len(sine_stim)), sine_stim, color=GREY, lw=1.3, clip_on=False)
    ptext(x0 + w / 2, 138, '%d Hz' % f, fontsize=10.8, color=GREY, ha='center')

ptext(65, 139, 'antennal   osition', fontsize=10.3, color=GREY)

# ---- step and sine responses ----
step_cells = [
    (65, 205, b_pos_on_mean, b_pos_on_trials, DARK),
    (230, 205, b_pos_off_mean, b_pos_off_trials, DARK),
    (65, 278, b_neg_on_mean, b_neg_on_trials, RED),
    (230, 280, b_neg_off_mean, b_neg_off_trials, RED),
    (65, 375, c_pos_on_mean, c_pos_on_trials, DARK),
    (230, 374, c_pos_off_mean, c_pos_off_trials, DARK),
    (65, 437, c_neg_on_mean, c_neg_on_trials, RED),
    (230, 440, c_neg_off_mean, c_neg_off_trials, RED),
    (65, 538, d_pos_on_mean, d_pos_on_trials, DARK),
    (230, 537, d_pos_off_mean, d_pos_off_trials, DARK),
    (65, 633, d_neg_on_mean, d_neg_on_trials, RED),
    (230, 634, d_neg_off_mean, d_neg_off_trials, RED),
]
sine_cells = [
    (25, 211, b_pos_25_mean, b_pos_25_trials, DARK),
    (50, 211, b_pos_50_mean, b_pos_50_trials, DARK),
    (100, 211, b_pos_100_mean, b_pos_100_trials, DARK),
    (25, 278, b_neg_25_mean, b_neg_25_trials, RED),
    (50, 278, b_neg_50_mean, b_neg_50_trials, RED),
    (100, 278, b_neg_100_mean, b_neg_100_trials, RED),
    (25, 380, c_pos_25_mean, c_pos_25_trials, DARK),
    (50, 380, c_pos_50_mean, c_pos_50_trials, DARK),
    (100, 380, c_pos_100_mean, c_pos_100_trials, DARK),
    (25, 438, c_neg_25_mean, c_neg_25_trials, RED),
    (50, 438, c_neg_50_mean, c_neg_50_trials, RED),
    (100, 438, c_neg_100_mean, c_neg_100_trials, RED),
    (25, 542, d_pos_25_mean, d_pos_25_trials, DARK),
    (50, 542, d_pos_50_mean, d_pos_50_trials, DARK),
    (100, 542, d_pos_100_mean, d_pos_100_trials, DARK),
    (25, 633, d_neg_25_mean, d_neg_25_trials, RED),
    (50, 633, d_neg_50_mean, d_neg_50_trials, RED),
    (100, 633, d_neg_100_mean, d_neg_100_trials, RED),
]


def draw_cell(ax, dur, mean, trials, colour):
    for tr in trials:
        ax.plot(np.linspace(0, dur, len(tr)), tr, color=TRIAL, lw=0.8, clip_on=False)
    ax.plot(np.linspace(0, dur, len(mean)), mean, color=colour, lw=1.7, clip_on=False)


for i, (x0, base, mean, trials, colour) in enumerate(step_cells):
    ax = trace_axes(x0, 150, base, step_dur, PX_MV, up=60, down=45)
    draw_cell(ax, step_dur, mean, trials, colour)
    if i == 0:
        # scale bar 5 mV / 20 ms
        ax.plot([18.75, 18.75, 38.75], [3.57 + 5, 3.57, 3.57], color='k', lw=1.2, clip_on=False)

for f, base, mean, trials, colour in sine_cells:
    x0, w = sine_x[f]
    dur = 1000 / f
    ax = trace_axes(x0, w, base, dur, PX_MV, up=60, down=45)
    ax.axhline(0, color=ZERO, lw=0.8, zorder=0)
    draw_cell(ax, dur, mean, trials, colour)

ptext(112, 165, '5 mV', fontsize=10)
ptext(112, 179, '20 ms', fontsize=10)

# ---- phase plots ----
R = 63
polar_sets = [((722, 233), b_pol_pos, b_pol_neg),
              ((722, 407), c_pol_pos, c_pol_neg),
              ((723, 583), d_pol_pos, d_pol_neg)]
for (cx, cy), pos, neg in polar_sets:
    pax = px_axes(cx - R, cy - R, 2 * R, 2 * R, projection='polar')
    pax.set_facecolor('none')
    pax.set_ylim(0, 1)
    pax.set_yticks([])
    pax.set_xticks(np.deg2rad(np.arange(0, 360, 30)))
    pax.set_xticklabels([])
    pax.xaxis.grid(True, color=ZERO, lw=0.9)
    pax.spines['polar'].set_visible(False)
    pax.scatter(np.deg2rad(pos[0]), pos[1], s=16, color=DARK, zorder=3, clip_on=False)
    pax.scatter(np.deg2rad(neg[0]), neg[1], s=16, color='#b01c26', zorder=3, clip_on=False)
    ptext(cx + 6, cy - 66, '0', fontsize=11.5, color='#a0a0a0', ha='center')
    ptext(cx, cy + 74, '- 0', fontsize=11.5, color='#a0a0a0', ha='center')
    ptext(cx - 74, cy + 4, '1 0', fontsize=11.5, color='#a0a0a0', ha='center')
    ptext(cx + 69, cy + 4, '0', fontsize=11.5, color='#a0a0a0', ha='center')

# ---- row labels ----
rows = [('B', 182, 'B1-high', 228, (170, 293), (183, 201, 243, 262)),
        ('C', 342, 'B1-mid', 396, (338, 455), (359, 377, 421, 437)),
        ('D', 497, 'B1-low', 578, (490, 667), (518, 535, 619, 636))]
for letter, ly, name, ny, (y0, y1), (p1, p2, n1, n2) in rows:
    ptext(3, ly, letter, fontsize=25)
    ptext(17, ny, name, fontsize=14.5, rotation=90, ha='center', va='center')
    fig.add_artist(Line2D([32 / W, 32 / W], [1 - y0 / H, 1 - y1 / H], color='#333333', lw=1.3))
    ptext(45, p1, 'ositive', fontsize=10.5)
    ptext(43, p2, 'cell', fontsize=10.5)
    ptext(37, n1, 'negative', fontsize=10.5, color=RED)
    ptext(37, n2, 'cell', fontsize=10.5, color=RED)

ptext(393, 353, 'F', fontsize=29)

fig.savefig('out.png', dpi=100)
